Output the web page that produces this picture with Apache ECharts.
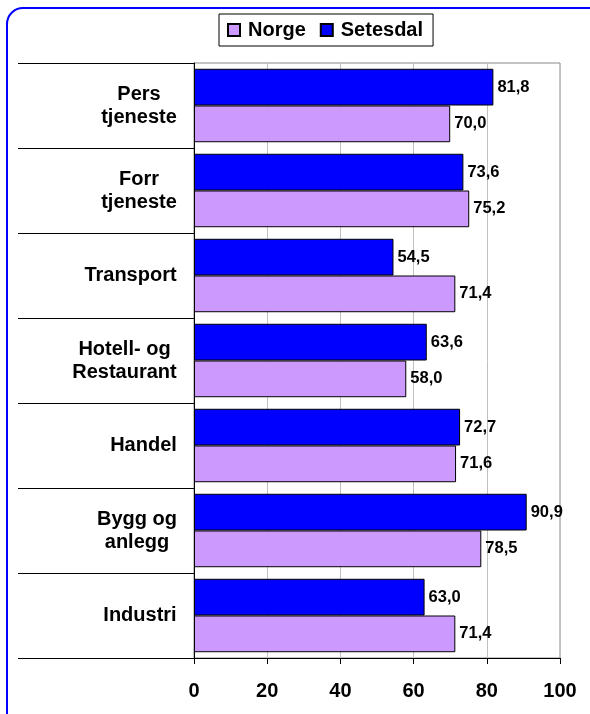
<!DOCTYPE html>
<html>
<head>
<meta charset="utf-8">
<script src="https://cdn.jsdelivr.net/npm/echarts@6/dist/echarts.min.js"></script>
<style>
  html, body { margin: 0; padding: 0; background: #fff; }
  #chart { width: 590px; height: 714px; }
</style>
</head>
<body>
<div id="chart"></div>
<script>
// categories top to bottom
var categories = ["Pers\ntjeneste", "Forr\ntjeneste", "Transport", "Hotell- og\nRestaurant", "Handel", "Bygg og\nanlegg", "Industri"];
var setesdal = [81.8, 73.6, 54.5, 63.6, 72.7, 90.9, 63.0];
var norge = [70.0, 75.2, 71.4, 58.0, 71.6, 78.5, 71.4];
var xTicks = [0, 20, 40, 60, 80, 100];

var myChart = echarts.init(document.getElementById("chart"));

function fmt(p) {
  return p.value.toFixed(1).replace(".", ",");
}

// Excel style: label block right aligned, lines centred inside the block
var measure = document.createElement("canvas").getContext("2d");
measure.font = 'bold 20px "Liberation Sans"';
var catRich = {};
categories.forEach(function (c, i) {
  var w = 0;
  c.split("\n").forEach(function (l) {
    w = Math.max(w, measure.measureText(l).width);
  });
  catRich["c" + i] = {
    width: Math.ceil(w),
    align: "center",
    color: "#000",
    fontWeight: "bold",
    fontSize: 20,
    fontFamily: "Liberation Sans",
    lineHeight: 23
  };
});

var labelStyle = {
  show: true,
  position: "right",
  distance: 4,
  formatter: fmt,
  color: "#000",
  fontFamily: "Liberation Sans",
  fontWeight: "bold",
  fontSize: 16.5
};

myChart.setOption({
  animation: false,
  textStyle: { fontFamily: "Liberation Sans" },
  graphic: [
    {
      type: "rect",
      shape: { x: 7, y: 8, width: 620, height: 740, r: 16 },
      style: { fill: "none", stroke: "#0000ff", lineWidth: 2 },
      z: 10
    }
  ],
  legend: {
    data: ["Norge", "Setesdal"],
    icon: "rect",
    left: 219,
    top: 14,
    padding: [6, 10, 6, 8],
    itemGap: 14,
    itemWidth: 12,
    itemHeight: 12,
    borderColor: "#000",
    borderWidth: 1,
    textStyle: {
      color: "#000",
      fontWeight: "bold",
      fontSize: 20,
      fontFamily: "Liberation Sans",
      padding: [0, 0, 0, 3]
    }
  },
  grid: {
    left: 194,
    right: 30,
    top: 63,
    bottom: 56,
    show: true,
    borderColor: "#888",
    borderWidth: 1,
    containLabel: false
  },
  xAxis: {
    type: "value",
    min: 0,
    max: 100,
    interval: 20,
    axisLine: { show: true, lineStyle: { color: "#000", width: 1 } },
    axisTick: { show: true, inside: false, length: 6, lineStyle: { color: "#000" } },
    splitLine: { show: true, lineStyle: { color: "#c0c0c0", width: 1 } },
    axisLabel: {
      color: "#000",
      fontWeight: "bold",
      fontSize: 20,
      fontFamily: "Liberation Sans",
      margin: 23,
      formatter: function (v) { return xTicks.indexOf(v) >= 0 ? String(v) : ""; }
    }
  },
  yAxis: {
    type: "category",
    data: categories,
    inverse: true,
    axisLine: { show: true, lineStyle: { color: "#000", width: 1 } },
    axisTick: { show: true, length: 176, alignWithLabel: false, lineStyle: { color: "#000" } },
    axisLabel: {
      align: "right",
      margin: 17,
      lineHeight: 23,
      formatter: function (value, index) {
        return value.split("\n").map(function (l) {
          return "{c" + index + "|" + l + "}";
        }).join("\n");
      },
      rich: catRich
    }
  },
  series: [
    {
      name: "Setesdal",
      type: "bar",
      data: setesdal,
      barGap: "0%",
      barCategoryGap: "13.6%",
      itemStyle: { color: "#0000ff", borderColor: "#000", borderWidth: 1 },
      label: labelStyle
    },
    {
      name: "Norge",
      type: "bar",
      data: norge,
      barGap: "0%",
      barCategoryGap: "13.6%",
      itemStyle: { color: "#cc99ff", borderColor: "#000", borderWidth: 1 },
      label: labelStyle
    }
  ]
});

window.onresize = function () {
  myChart.resize();
};
</script>
</body>
</html>
